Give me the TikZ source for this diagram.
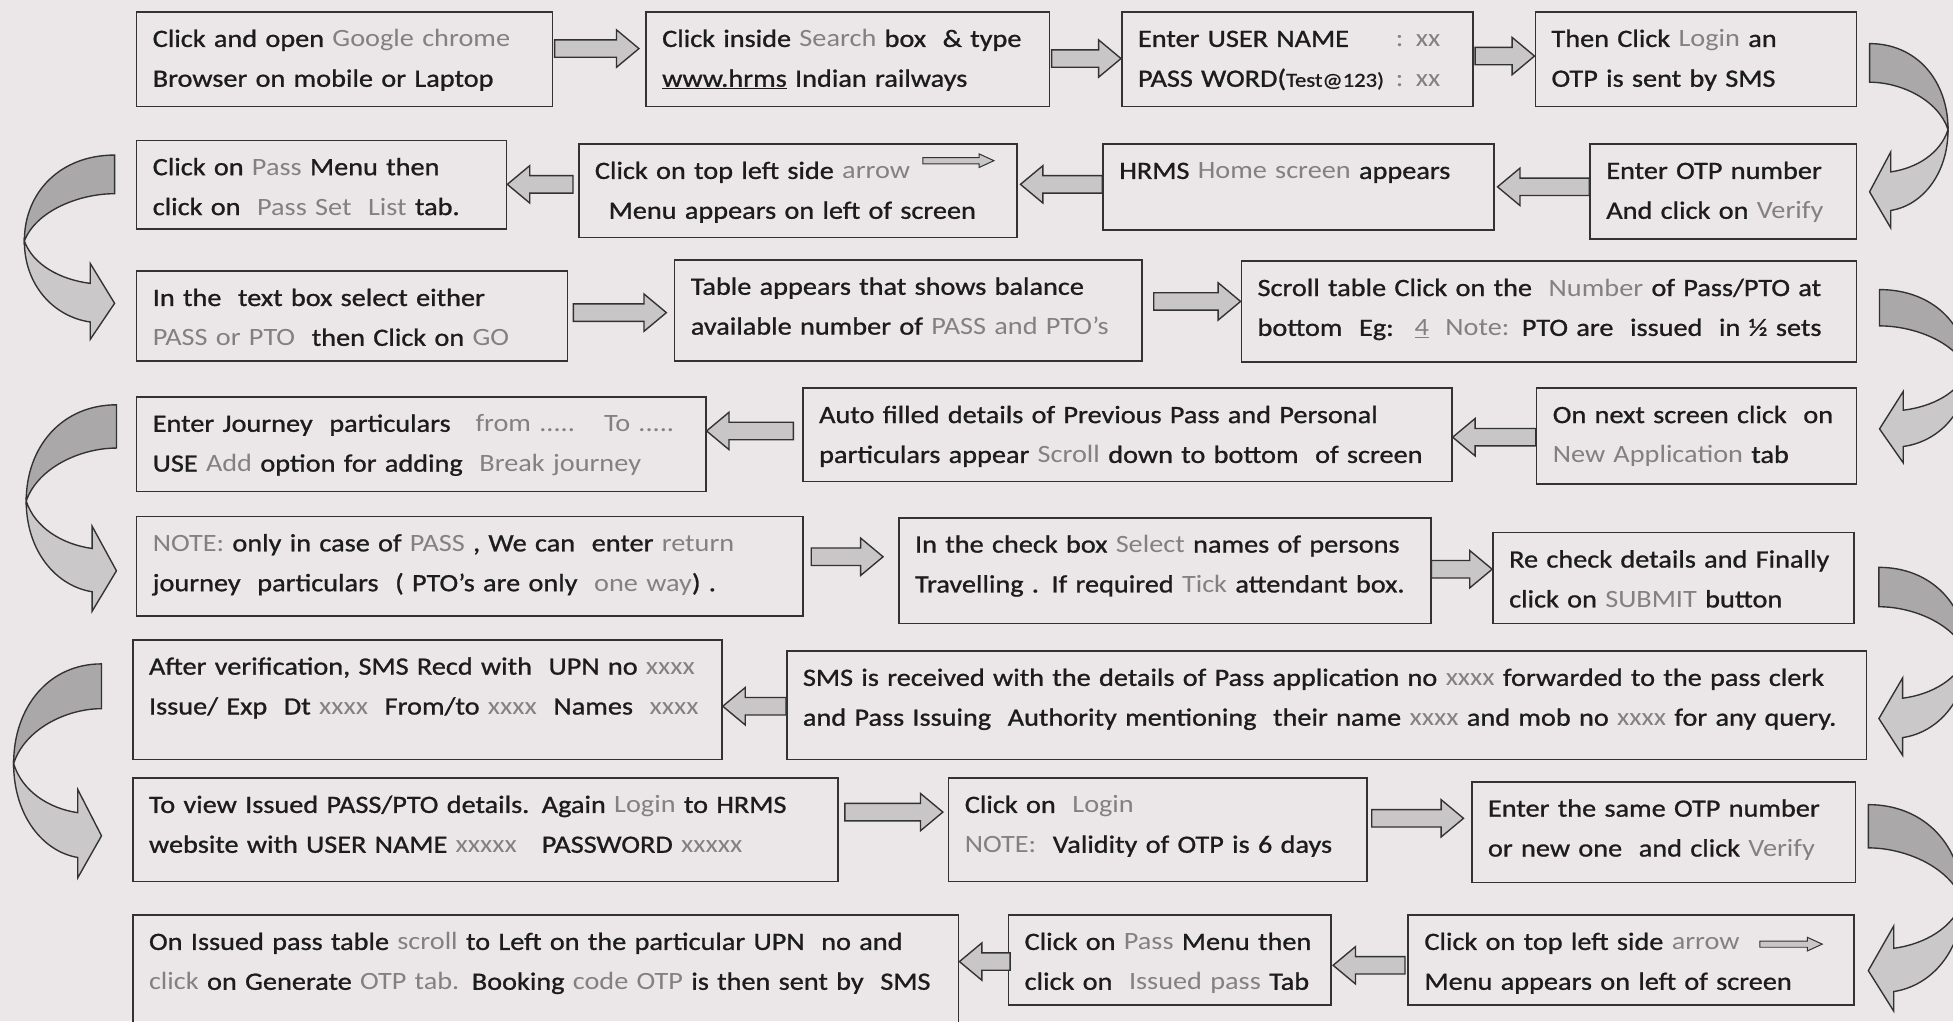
\documentclass[tikz,border=0pt]{standalone}
\usepackage{fontspec}
\setmainfont{Carlito}[FakeStretch=1.135, FakeBold=1.0]
\newfontfamily\greyfont{Carlito}[FakeStretch=1.135]
\usetikzlibrary{calc}

\definecolor{paper}{RGB}{235,230,232}
\definecolor{ink}{RGB}{28,28,28}
\definecolor{hint}{RGB}{130,128,129}
\definecolor{frame}{RGB}{50,50,50}
\definecolor{bandback}{RGB}{170,168,169}
\definecolor{bandfront}{RGB}{202,200,201}
\definecolor{shaft}{RGB}{200,198,199}

% grey words inside the steps
\newcommand\gr[1]{{\greyfont\textcolor{hint}{#1}}}

% straight block arrows between two boxes: tail, tip, y of the centre line
\newcommand\fatright[3]{%
  \draw[blockarrow] let \p1=(#1), \p2=(#2), \p3=(0,#3) in
    (\x1,\y3+7pt) -- (\x2-18pt,\y3+7pt) -- (\x2-18pt,\y3+15pt) -- (\x2,\y3)
    -- (\x2-18pt,\y3-15pt) -- (\x2-18pt,\y3-7pt) -- (\x1,\y3-7pt) -- cycle;}
\newcommand\fatleft[3]{%
  \draw[blockarrow] let \p1=(#1), \p2=(#2), \p3=(0,#3) in
    (\x1,\y3+7pt) -- (\x2+18pt,\y3+7pt) -- (\x2+18pt,\y3+15pt) -- (\x2,\y3)
    -- (\x2+18pt,\y3-15pt) -- (\x2+18pt,\y3-7pt) -- (\x1,\y3-7pt) -- cycle;}
% small arrow printed after the word arrow
\newcommand\tinyarrow[2]{%
  \filldraw[draw=frame, fill=shaft, line width=0.8pt] (#1) ++(0,-2.5) -- ++(#2-12,0)
    -- ++(0,-3) -- ++(12,5.5) -- ++(-12,5.5) -- ++(0,-3) -- ++(-#2+12,0) -- cycle;}

\tikzset{
  stepbox/.style 2 args={draw=frame, line width=1.3pt, anchor=north west, align=left,
    inner xsep=13pt, inner ysep=0pt, text height=28pt,
    text width=#1pt-26pt, text depth=#2pt-28pt,
    font=\fontsize{20}{32}\selectfont, text=ink},
  blockarrow/.style={draw=frame, line width=1.1pt, fill=shaft},
  bendarrow/.pic={
    \filldraw[draw=frame, line width=1.1pt, fill=bandfront]
      (63,69) .. controls (63,105) and (42,130) .. (17,134) -- (17,148) -- (0,119)
      -- (17,87) -- (17,103) .. controls (38,100) and (57,88) .. (63,69) -- cycle;
    \filldraw[draw=frame, line width=1.1pt, fill=bandback]
      (0,0) .. controls (38,0) and (63,30) .. (63,69)
      .. controls (55,45) and (25,31) .. (0,31) -- cycle;
  }
}

\begin{document}
\begin{tikzpicture}[x=1pt, y=-1pt]
  \fill[paper] (0,0) rectangle (1568,820);
  \useasboundingbox (0,0) rectangle (1568,820);
  \clip (0,0) rectangle (1568,820);

  % row 1
  \node[stepbox={334}{76}] (b1) at (109,9) {Click and open \gr{Google chrome}\\Browser on mobile or Laptop};
  \node[stepbox={324}{76}] (b2) at (518,9) {Click inside \gr{Search} box~ \& type\\\underline{www.hrms} Indian railways};
  \node[stepbox={282}{76}] (b3) at (900,9) {\makebox[207pt][l]{Enter USER NAME}\gr{: xx}\\\makebox[207pt][l]{PASS WORD({\fontsize{16}{32}\selectfont Test@123)}}\gr{: xx}};
  \node[stepbox={258}{76}] (b4) at (1232,9) {Then Click \gr{Login} an\\OTP is sent by SMS};
  % row 2
  \node[stepbox={297}{71}] (c1) at (109,112) {Click on \gr{Pass} Menu then\\click on~ \gr{Pass Set~ List} tab.};
  \node[stepbox={352}{75}] (c2) at (464,115) {Click on top left side \gr{arrow}\\\hspace*{11pt}Menu appears on left of screen};
  \node[stepbox={314}{69}] (c3) at (885,115) {HRMS \gr{Home screen} appears};
  \node[stepbox={214}{76}] (c4) at (1276,115) {Enter OTP number\\And click on \gr{Verify}};
  % row 3
  \node[stepbox={346}{72}] (d1) at (109,217) {In the~ text box select either\\\gr{PASS or PTO}~ then Click on \gr{GO}};
  \node[stepbox={375}{81}] (d2) at (541,208) {Table appears that shows balance\\available number of \gr{PASS and PTO’s}};
  \node[stepbox={494}{81}] (d3) at (996,209) {Scroll table Click on the~ \gr{Number} of Pass/PTO at\\bottom~ Eg:~ \gr{\underline{4}}~ \gr{Note:} PTO are~ issued~ in ½ sets};
  % row 4
  \node[stepbox={457}{76}] (e1) at (109,318) {Enter Journey~ particulars~~ \gr{from .....~~ To .....}\\USE \gr{Add} option for adding~ \gr{Break journey}};
  \node[stepbox={521}{75}] (e2) at (644,311) {Auto filled details of Previous Pass and Personal\\particulars appear \gr{Scroll} down to bottom~ of screen};
  \node[stepbox={257}{77}] (e3) at (1233,311) {On next screen click~ on\\\gr{New Application} tab};
  % row 5
  \node[stepbox={535}{80}] (f1) at (109,414) {\gr{NOTE:} only in case of \gr{PASS} , We can~ enter \gr{return}\\journey~ particulars~ ( PTO’s are only~ \gr{one way}) .};
  \node[stepbox={427}{85}] (f2) at (721,415) {In the check box \gr{Select} names of persons\\Travelling . If required \gr{Tick} attendant box.};
  \node[stepbox={290}{73}] (f3) at (1198,427) {Re check details and Finally\\click on \gr{SUBMIT} button};
  % row 6
  \node[stepbox={473}{96}] (g1) at (106,513) {After verification, SMS Recd with~ UPN no \gr{xxxx}\\\mbox{Issue/ Exp~ Dt \gr{xxxx}~ From/to \gr{xxxx}~ Names~ \gr{xxxx}}};
  \node[stepbox={867}{87}] (g2) at (631,522) {SMS is received with the details of Pass application no \gr{xxxx} forwarded to the pass clerk\\and Pass Issuing~ Authority mentioning~ their name \gr{xxxx} and mob no \gr{xxxx} for any query.};
  % row 7
  \node[stepbox={566}{83}] (h1) at (106,624) {To view Issued PASS/PTO details. Again \gr{Login} to HRMS\\website with USER NAME \gr{xxxxx}~~ PASSWORD \gr{xxxxx}};
  \node[stepbox={336}{83}] (h2) at (761,624) {Click on~ \gr{Login}\\\gr{NOTE:}~ Validity of OTP is 6 days};
  \node[stepbox={308}{81}] (h3) at (1181,627) {Enter the same OTP number\\or new one~ and click \gr{Verify}};
  % row 8
  \node[stepbox={663}{100}] (i1) at (106,734) {On Issued pass table \gr{scroll} to Left on the particular UPN~ no and\\\gr{click} on Generate \gr{OTP tab.} Booking \gr{code OTP} is then sent by~ SMS};
  \node[stepbox={259}{72}] (i2) at (809,734) {Click on \gr{Pass} Menu then\\click on~ \gr{Issued pass} Tab};
  \node[stepbox={358}{72}] (i3) at (1130,734) {Click on top left side \gr{arrow}\\Menu appears on left of screen};

  % arrows inside the text
  \tinyarrow{$(c2.north west)+(277,14)$}{57}
  \tinyarrow{$(i3.north west)+(283,24)$}{50}

  % straight arrows
  \fatright{[xshift=1pt]b1.east}{[xshift=-5pt]b2.west}{39}
  \fatright{[xshift=1pt]b2.east}{b3.west}{47}
  \fatright{[xshift=1pt]b3.east}{b4.west}{45}
  \fatleft{[xshift=-4pt]c2.west}{c1.east}{148}
  \fatleft{c3.west}{[xshift=2pt]c2.east}{148}
  \fatleft{c4.west}{[xshift=2pt]c3.east}{150}
  \fatright{[xshift=4pt]d1.east}{[xshift=-6pt]d2.west}{251}
  \fatright{[xshift=9pt]d2.east}{d3.west}{242}
  \fatleft{[xshift=-7pt]e2.west}{e1.east}{346}
  \fatleft{e3.west}{e2.east}{351}
  \fatright{[xshift=6pt]f1.east}{[xshift=-12pt]f2.west}{447}
  \fatright{f2.east}{f3.west}{457}
  \fatleft{g2.west}{g1.east}{567}
  \fatright{[xshift=5pt]h1.east}{[xshift=-4pt]h2.west}{652}
  \fatright{[xshift=3pt]h2.east}{[xshift=-6pt]h3.west}{657}
  \fatleft{[xshift=2pt]i2.west}{i1.east}{772}
  \fatleft{[xshift=-2pt]i3.west}{[xshift=1pt]i2.east}{775}

  % curved arrows from one row to the next
  \pic at (1501,35) {bendarrow};
  \pic[xscale=-1.15] at (92,124.5) {bendarrow};
  \pic[xscale=1.12, yscale=0.94] at (1509,232.5) {bendarrow};
  \pic[xscale=-1.15, yscale=1.12] at (93.5,325) {bendarrow};
  \pic[xscale=1.12, yscale=1.02] at (1508.5,455.5) {bendarrow};
  \pic[xscale=-1.12, yscale=1.16] at (81.5,533) {bendarrow};
  \pic[xscale=1.2, yscale=1.12] at (1500,646) {bendarrow};
\end{tikzpicture}
\end{document}
